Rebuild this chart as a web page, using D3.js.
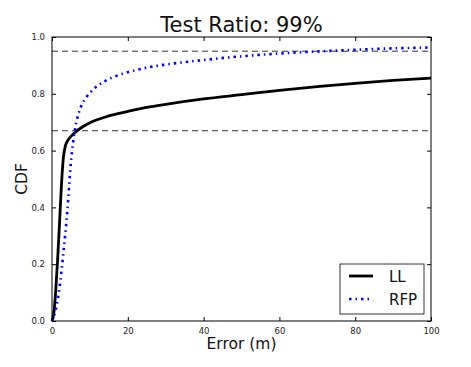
<!DOCTYPE html>
<html>
    <head>
    <title>Test Ratio CDF</title>
    <script src="https://d3js.org/d3.v7.min.js"></script>
    <style>
        body { margin: 0; background: white; }
        text { font-family: "DejaVu Sans", sans-serif; }
    </style>
    </head>
    <body>
        <div id="my_dataviz"></div>
    </body>

    <script>
        // data
        var errorLL = [0, 0.5, 1, 1.5, 2, 2.5, 3, 3.5, 4, 5, 6, 8, 10, 15, 20, 25, 30, 40, 50, 60, 70, 80, 90, 100]
        var cdfLL = [0, 0.03, 0.11, 0.22, 0.35, 0.48, 0.575, 0.615, 0.632, 0.65, 0.663, 0.683, 0.698, 0.722, 0.738, 0.752, 0.763, 0.782, 0.797, 0.812, 0.825, 0.837, 0.847, 0.855]
        var errorRFP = [0, 1, 2, 3, 4, 5, 6, 7, 8, 9, 10, 12, 14, 16, 18, 20, 25, 30, 40, 50, 60, 70, 80, 90, 100]
        var cdfRFP = [0, 0.04, 0.12, 0.24, 0.38, 0.56, 0.67, 0.73, 0.765, 0.787, 0.803, 0.828, 0.845, 0.858, 0.868, 0.876, 0.892, 0.903, 0.919, 0.932, 0.942, 0.949, 0.955, 0.96, 0.963]
        var refLines = [0.95, 0.67]
        var xTicks = [0, 20, 40, 60, 80, 100]
        var yTicks = [0, 0.2, 0.4, 0.6, 0.8, 1.0]

        var margin = { top: 37, right: 40, bottom: 46, left: 52 },
            width = 471 - margin.left - margin.right,
            height = 367 - margin.top - margin.bottom

        var svg = d3.select("#my_dataviz")
            .append("svg")
            .attr("width", width + margin.left + margin.right)
            .attr("height", height + margin.top + margin.bottom)
            .append("g")
            .attr("transform", "translate(" + margin.left + "," + margin.top + ")")

        var x = d3.scaleLinear().domain([0, 100]).range([0, width])
        var y = d3.scaleLinear().domain([0, 1]).range([height, 0])

        // inward ticks on all four sides, classic matplotlib look
        var axes = [
            { ax: d3.axisBottom(x).tickValues(xTicks).tickFormat(d3.format("d")), t: "translate(0," + height + ")", labels: true },
            { ax: d3.axisTop(x).tickValues(xTicks), t: "translate(0,0)", labels: false },
            { ax: d3.axisLeft(y).tickValues(yTicks).tickFormat(d3.format(".1f")), t: "translate(0,0)", labels: true },
            { ax: d3.axisRight(y).tickValues(yTicks), t: "translate(" + width + ",0)", labels: false }
        ]
        axes.forEach(function (a) {
            var g = svg.append("g")
                .attr("transform", a.t)
                .call(a.ax.tickSizeInner(-4).tickSizeOuter(0).tickPadding(7))
            g.select(".domain").remove()
            g.selectAll(".tick line").attr("stroke", "#000")
            g.selectAll("text")
                .attr("fill", "#222")
                .style("font-size", "8.5px")
                .style("font-family", "DejaVu Sans")
            if (!a.labels) g.selectAll("text").remove()
        })

        // reference lines
        svg.selectAll(".ref")
            .data(refLines)
            .enter().append("line")
            .attr("class", "ref")
            .attr("x1", 0)
            .attr("x2", width)
            .attr("y1", function (d) { return y(d); })
            .attr("y2", function (d) { return y(d); })
            .attr("stroke", "#333")
            .attr("stroke-width", 1)
            .attr("stroke-dasharray", "6,4")

        var line = d3.line()
            .x(function (d) { return x(d[0]); })
            .y(function (d) { return y(d[1]); })
            .curve(d3.curveMonotoneX)

        var llData = d3.zip(errorLL, cdfLL)
        var rfpData = d3.zip(errorRFP, cdfRFP)

        svg.append("path")
            .datum(llData)
            .attr("fill", "none")
            .attr("stroke", "#000")
            .attr("stroke-width", 2.8)
            .attr("d", line)

        svg.append("path")
            .datum(rfpData)
            .attr("fill", "none")
            .attr("stroke", "#0000ff")
            .attr("stroke-width", 2.6)
            .attr("stroke-dasharray", "2.5,4,1.5,4")
            .attr("d", line)

        // frame
        svg.append("rect")
            .attr("width", width)
            .attr("height", height)
            .attr("fill", "none")
            .attr("stroke", "#000")
            .attr("stroke-width", 1)

        // title
        svg.append("text")
            .attr("x", width / 2)
            .attr("y", -5)
            .attr("text-anchor", "middle")
            .style("font-size", "21px")
            .attr("fill", "#111")
            .text("Test Ratio: 99%")

        // axis labels
        svg.append("text")
            .attr("x", width / 2)
            .attr("y", height + 28)
            .attr("text-anchor", "middle")
            .style("font-size", "15.5px")
            .attr("fill", "#111")
            .text("Error (m)")

        svg.append("text")
            .attr("transform", "rotate(-90)")
            .attr("x", -height / 2)
            .attr("y", -25)
            .attr("text-anchor", "middle")
            .style("font-size", "15.5px")
            .attr("fill", "#111")
            .text("CDF")

        // legend
        var legend = svg.append("g")
            .attr("transform", "translate(" + (340 - margin.left) + "," + (264 - margin.top) + ")")
        legend.append("rect")
            .attr("width", 84)
            .attr("height", 50)
            .attr("fill", "white")
            .attr("stroke", "#333")
            .attr("stroke-width", 1)
        var items = [
            { name: "LL", color: "#000", dash: null, w: 2.8 },
            { name: "RFP", color: "#0000ff", dash: "2.5,4,1.5,4", w: 2.6 }
        ]
        items.forEach(function (it, i) {
            legend.append("line")
                .attr("x1", 9).attr("x2", 33)
                .attr("y1", 12 + i * 23).attr("y2", 12 + i * 23)
                .attr("stroke", it.color)
                .attr("stroke-width", it.w)
                .attr("stroke-dasharray", it.dash)
            legend.append("text")
                .attr("x", 49)
                .attr("y", 12 + i * 23 + 5.5)
                .style("font-size", "15px")
                .attr("fill", "#111")
                .text(it.name)
        })
    </script>
</html>
